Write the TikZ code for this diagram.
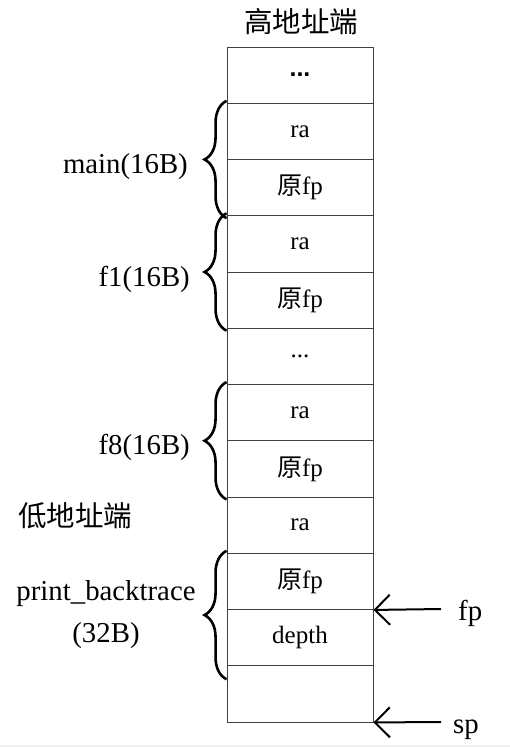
\documentclass[tikz,border=0pt]{standalone}
\usepackage{fontspec}
\setmainfont{Liberation Serif}
\newfontfamily\cjk{Noto Sans CJK SC}
\newfontfamily\sansb{Liberation Sans}
\usetikzlibrary{arrows.meta,decorations.pathreplacing}
\begin{document}
\begin{tikzpicture}[x=1pt,y=-1pt,
  cell/.style={draw=black!75,line width=0.9pt,minimum width=146pt,minimum height=56.25pt,inner sep=0pt,font=\fontsize{25}{29}\selectfont},
  lbl/.style={inner sep=0pt,font=\fontsize{28.8}{32}\selectfont},
  hdr/.style={inner sep=0pt,font=\cjk\fontsize{28.5}{32}\selectfont},
  brc/.style={decorate,decoration={brace,amplitude=22pt},line width=2.6pt},
  arr/.style={line width=2pt,-{Straight Barb[length=15pt,width=30pt,line width=2pt]}}]
\useasboundingbox (0,0) rectangle (510,747);
\fill[black!6] (0,745) rectangle (510,747);
\node[cell] (c1) at (300,75.125) {\sansb\bfseries ...};
\node[cell] (c2) at (300,131.375) {ra};
\node[cell] (c3) at (300,187.625) {{\cjk 原}fp};
\node[cell] (c4) at (300,243.875) {ra};
\node[cell] (c5) at (300,300.125) {{\cjk 原}fp};
\node[cell] (c6) at (300,356.375) {...};
\node[cell] (c7) at (300,412.625) {ra};
\node[cell] (c8) at (300,468.875) {{\cjk 原}fp};
\node[cell] (c9) at (300,525.125) {ra};
\node[cell] (c10) at (300,581.375) {{\cjk 原}fp};
\node[cell] (c11) at (300,637.625) {depth};
\node[cell] (c12) at (300,693.875) {};
\node[hdr] (hi) at (301,22) {高地址端};
\node[hdr] (lo) at (75,516) {低地址端};
\coordinate (b1a) at ([yshift=-2pt]c3.south west);
\coordinate (b1b) at ([yshift=2pt]c2.north west);
\coordinate (b2a) at ([yshift=-2pt]c5.south west);
\coordinate (b2b) at ([yshift=2pt]c4.north west);
\coordinate (b3a) at ([yshift=-2pt]c8.south west);
\coordinate (b3b) at ([yshift=2pt]c7.north west);
\coordinate (b4a) at ([yshift=-14pt]c12.north west);
\coordinate (b4b) at ([yshift=2pt]c10.north west);
\draw[brc] (b1a) -- (b1b);
\draw[brc] (b2a) -- (b2b);
\draw[brc] (b3a) -- (b3b);
\draw[brc] (b4a) -- (b4b);
\node[lbl,anchor=base east] (m) at (188,173) {main(16B)};
\node[lbl,anchor=base east] (f1) at (190,286) {f1(16B)};
\node[lbl,anchor=base east] (f8) at (190,454) {f8(16B)};
\node[lbl,anchor=base] (pb) at (106,600) {print\_backtrace};
\node[lbl,anchor=base] (pb2) at (106,642) {(32B)};
\coordinate (fps) at (441,609);
\coordinate (sps) at (441,722);
\draw[arr] (fps) -- (c10.south east);
\draw[arr] (sps) -- (c12.south east);
\node[lbl,anchor=base west] (fp) at (458,620) {fp};
\node[lbl,anchor=base west] (sp) at (453,733) {sp};
\end{tikzpicture}
\end{document}
